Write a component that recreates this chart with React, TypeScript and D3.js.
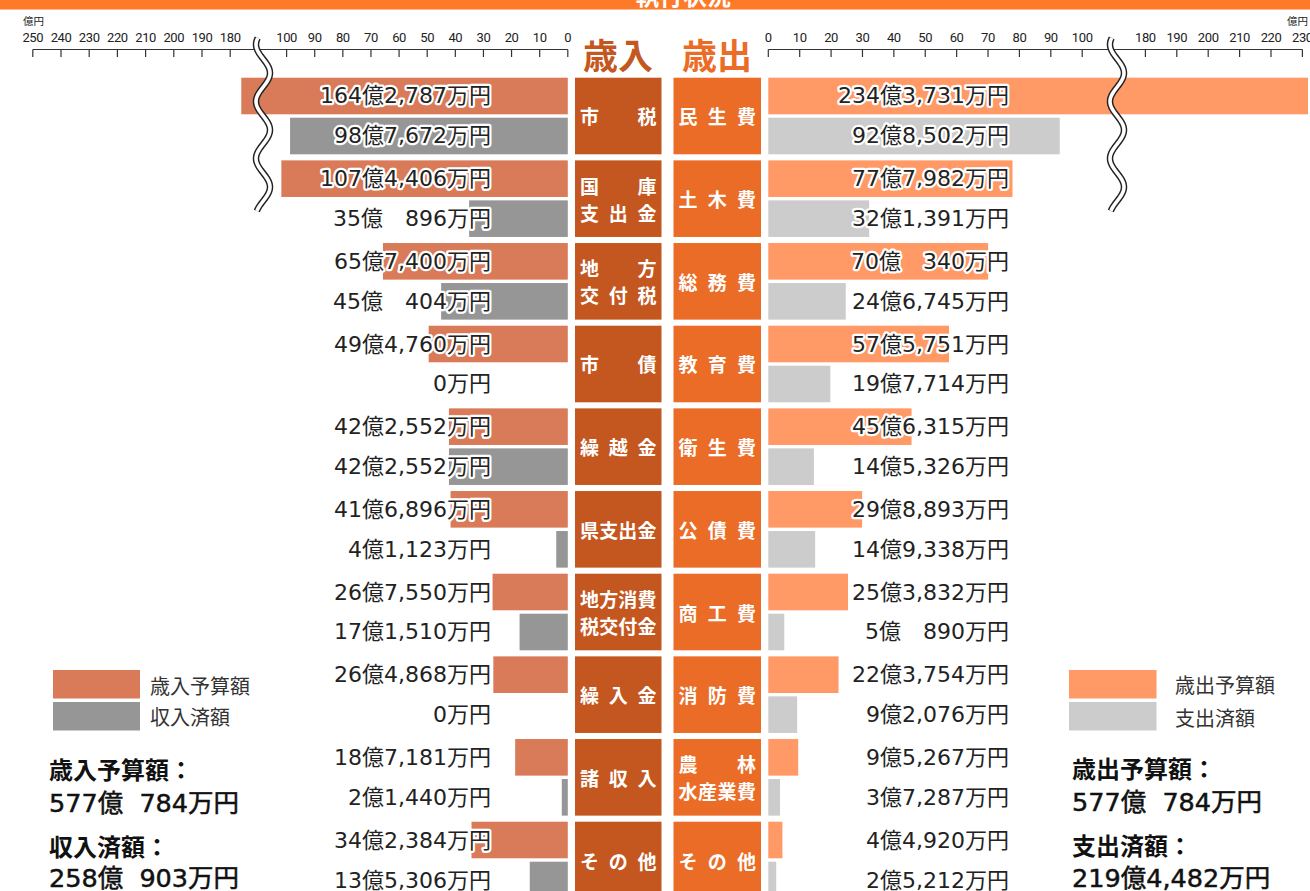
import React from 'react';
import * as d3 from 'd3';

// ---- data (values in 万円) ----
const revCategories = ['市税', '国庫|支出金', '地方|交付税', '市債', '繰越金', '県支出金', '地方消費|税交付金', '繰入金', '諸収入', 'その他'];
const revBudget = [1642787, 1074406, 657400, 494760, 422552, 416896, 267550, 264868, 187181, 342384];
const revActual = [987672, 350896, 450404, 0, 422552, 41123, 171510, 0, 21440, 135306];

const expCategories = ['民生費', '土木費', '総務費', '教育費', '衛生費', '公債費', '商工費', '消防費', '農林|水産業費', 'その他'];
const expBudget = [2343731, 777982, 700340, 575751, 456315, 298893, 253832, 223754, 95267, 44920];
const expActual = [928502, 321391, 246745, 197714, 145326, 149338, 50890, 92076, 37287, 25212];

const leftTicks = [0, 10, 20, 30, 40, 50, 60, 70, 80, 90, 100, 180, 190, 200, 210, 220, 230, 240, 250];
const rightTicks = [0, 10, 20, 30, 40, 50, 60, 70, 80, 90, 100, 180, 190, 200, 210, 220, 230];

const revLegend = ['歳入予算額', '収入済額'];
const expLegend = ['歳出予算額', '支出済額'];
const revTotals = [['歳入予算額：', '577億\u00a0\u00a0784万円'], ['収入済額：', '258億\u00a0\u00a0903万円']];
const expTotals = [['歳出予算額：', '577億\u00a0\u00a0784万円'], ['支出済額：', '219億4,482万円']];

const COLORS = {
  revBudget: '#D97A58',
  revActual: '#969696',
  revBox: '#C4571F',
  expBudget: '#FF9966',
  expActual: '#CCCCCC',
  expBox: '#EA6C27',
  top: '#FF7A28',
};

const W = 1310;
const H = 891;
const JP = "'DejaVu Sans', 'Noto Sans CJK JP', sans-serif";
const JPB = "'Noto Sans CJK JP', sans-serif";

function fmt(man: number): string {
  const oku = Math.floor(man / 10000);
  const rest = man % 10000;
  if (oku === 0) return `${rest}万円`;
  if (rest < 1000) return `${oku}億\u3000${rest}万円`;
  return `${oku}億${d3.format(',')(rest)}万円`;
}

const xL = d3.scaleLinear().domain([0, 100, 180, 250]).range([567.8, 286.6, 230.2, 32.8]);
const xR = d3.scaleLinear().domain([0, 100, 180, 230]).range([768.3, 1082.2, 1145.4, 1302.4]);

const groupBand = d3.scaleBand<number>().domain(d3.range(10)).range([77.7, 898.3]).paddingInner(0.0734).paddingOuter(0);
const subBand = d3.scaleBand<string>().domain(['b', 'a']).range([0, groupBand.bandwidth()]).paddingInner(0.085).paddingOuter(0);

const AXIS_Y = 49.5;

function Squiggle({ cx }: { cx: number }) {
  const ys = d3.range(38, 212, 1);
  const line = d3.line<number>().x((y) => cx + 7 * Math.cos((2 * Math.PI * (y - 73)) / 57)).y((y) => y).curve(d3.curveBasis);
  const d = line(ys) || '';
  return (
    <g>
      <path d={d} fill="none" stroke="#222" strokeWidth={6.5} />
      <path d={d} fill="none" stroke="#fff" strokeWidth={3.6} />
    </g>
  );
}

function Axis({ scale, ticks, x0, x1 }: { scale: d3.ScaleLinear<number, number>; ticks: number[]; x0: number; x1: number }) {
  return (
    <g>
      <line x1={x0} x2={x1} y1={AXIS_Y} y2={AXIS_Y} stroke="#333" strokeWidth={1.2} />
      {ticks.map((t) => (
        <g key={t}>
          <line x1={scale(t)} x2={scale(t)} y1={AXIS_Y} y2={AXIS_Y + 7.5} stroke="#333" strokeWidth={1.2} />
          <text x={scale(t)} y={41.5} textAnchor="middle" fontFamily="Roboto, sans-serif" fontSize={13} letterSpacing={-0.4} fill="#222">
            {t}
          </text>
        </g>
      ))}
    </g>
  );
}

function BoxLabel({ x, y, w, h, label, fill }: { x: number; y: number; w: number; h: number; label: string; fill: string }) {
  const lines = label.split('|');
  const cy = y + h / 2;
  const lh = 27;
  const pad = 5;
  const cw = 19;
  return (
    <g>
      <rect x={x} y={y} width={w} height={h} fill={fill} />
      {lines.map((ln, li) => {
        const chars = Array.from(ln);
        const ly = cy + (li - (lines.length - 1) / 2) * lh;
        const n = chars.length;
        const span = w - 2 * pad - cw;
        return chars.map((c, ci) => (
          <text
            key={`${li}-${ci}`}
            x={x + pad + cw / 2 + (n > 1 ? (ci * span) / (n - 1) : span / 2)}
            y={ly}
            textAnchor="middle"
            dominantBaseline="central"
            fontFamily={JPB}
            fontWeight={700}
            fontSize={19}
            fill="#fff"
          >
            {c}
          </text>
        ));
      })}
    </g>
  );
}

function ValueLabel({ x, y, text }: { x: number; y: number; text: string }) {
  return (
    <text
      x={x}
      y={y}
      textAnchor="end"
      dominantBaseline="central"
      fontFamily={JP}
      fontSize={22}
      fill="#222"
      stroke="#fff"
      strokeWidth={4.5}
      strokeLinejoin="round"
      style={{ paintOrder: 'stroke' }}
    >
      {text}
    </text>
  );
}

export default function App() {
  const sb = subBand('b') as number;
  const sa = subBand('a') as number;
  const bh = subBand.bandwidth();
  const gh = groupBand.bandwidth();
  return (
    <svg width={W} height={H} style={{ position: 'absolute', left: 0, top: 0, background: '#fff' }}>
      {/* top bar */}
      <rect x={0} y={0} width={W} height={9.5} fill={COLORS.top} />
      <text x={683} y={5} textAnchor="middle" fontFamily={JPB} fontWeight={700} fontSize={24} fill="#fff">
        執行状況
      </text>

      {/* units */}
      <text x={23} y={25} fontFamily={JPB} fontSize={10.5} fill="#222">億円</text>
      <text x={1308} y={25} textAnchor="end" fontFamily={JPB} fontSize={10.5} fill="#222">億円</text>

      {/* axes */}
      <Axis scale={xL} ticks={leftTicks} x0={xL(250)} x1={xL(0)} />
      <Axis scale={xR} ticks={rightTicks} x0={xR(0)} x1={xR(230)} />

      {/* headers */}
      <text x={618} y={53} textAnchor="middle" dominantBaseline="central" fontFamily={JPB} fontWeight={700} fontSize={35} fill={COLORS.revBox}>
        歳入
      </text>
      <text x={717} y={53} textAnchor="middle" dominantBaseline="central" fontFamily={JPB} fontWeight={700} fontSize={35} fill={COLORS.expBox}>
        歳出
      </text>

      {/* revenue bars */}
      {revCategories.map((c, i) => {
        const g = groupBand(i) as number;
        return (
          <g key={`rb${i}`}>
            <rect x={xL(revBudget[i] / 10000)} y={g + sb} width={xL(0) - xL(revBudget[i] / 10000)} height={bh} fill={COLORS.revBudget} />
            <rect x={xL(revActual[i] / 10000)} y={g + sa} width={xL(0) - xL(revActual[i] / 10000)} height={bh} fill={COLORS.revActual} />
          </g>
        );
      })}
      {/* expenditure bars */}
      {expCategories.map((c, i) => {
        const g = groupBand(i) as number;
        return (
          <g key={`eb${i}`}>
            <rect x={xR(0)} y={g + sb} width={Math.min(xR(expBudget[i] / 10000), 1308) - xR(0)} height={bh} fill={COLORS.expBudget} />
            <rect x={xR(0)} y={g + sa} width={Math.min(xR(expActual[i] / 10000), 1308) - xR(0)} height={bh} fill={COLORS.expActual} />
          </g>
        );
      })}

      {/* category boxes */}
      {revCategories.map((c, i) => (
        <BoxLabel key={`rbox${i}`} x={575} y={groupBand(i) as number} w={86.5} h={gh} label={c} fill={COLORS.revBox} />
      ))}
      {expCategories.map((c, i) => (
        <BoxLabel key={`ebox${i}`} x={673.5} y={groupBand(i) as number} w={87.5} h={gh} label={c} fill={COLORS.expBox} />
      ))}

      {/* squiggles (axis breaks) */}
      <Squiggle cx={263} />
      <Squiggle cx={1117} />

      {/* value labels */}
      {revCategories.map((c, i) => {
        const g = groupBand(i) as number;
        return (
          <g key={`rl${i}`}>
            <ValueLabel x={491} y={g + sb + bh / 2} text={fmt(revBudget[i])} />
            <ValueLabel x={491} y={g + sa + bh / 2} text={fmt(revActual[i])} />
          </g>
        );
      })}
      {expCategories.map((c, i) => {
        const g = groupBand(i) as number;
        return (
          <g key={`el${i}`}>
            <ValueLabel x={1009} y={g + sb + bh / 2} text={fmt(expBudget[i])} />
            <ValueLabel x={1009} y={g + sa + bh / 2} text={fmt(expActual[i])} />
          </g>
        );
      })}

      {/* legends */}
      {revLegend.map((t, i) => (
        <g key={`lg${i}`}>
          <rect x={53} y={670 + i * 32} width={87} height={28.5} fill={i === 0 ? COLORS.revBudget : COLORS.revActual} />
          <text x={150} y={685 + i * 31} dominantBaseline="central" fontFamily={JPB} fontSize={20} fill="#333">
            {t}
          </text>
        </g>
      ))}
      {expLegend.map((t, i) => (
        <g key={`rg${i}`}>
          <rect x={1069} y={670 + i * 32} width={87.5} height={28.5} fill={i === 0 ? COLORS.expBudget : COLORS.expActual} />
          <text x={1175} y={684 + i * 33} dominantBaseline="central" fontFamily={JPB} fontSize={20} fill="#333">
            {t}
          </text>
        </g>
      ))}

      {/* totals */}
      {revTotals.map((pair, i) => (
        <g key={`rt${i}`}>
          <text x={49} y={771 + i * 77} dominantBaseline="central" fontFamily={JP} fontWeight={700} fontSize={24} fill="#111">
            {pair[0]}
          </text>
          <text x={49} y={803 + i * 75} dominantBaseline="central" fontFamily={JP} fontSize={25.5} fill="#111" stroke="#111" strokeWidth={0.5}>
            {pair[1]}
          </text>
        </g>
      ))}
      {expTotals.map((pair, i) => (
        <g key={`et${i}`}>
          <text x={1072} y={770 + i * 77} dominantBaseline="central" fontFamily={JP} fontWeight={700} fontSize={24} fill="#111">
            {pair[0]}
          </text>
          <text x={1072} y={802 + i * 76} dominantBaseline="central" fontFamily={JP} fontSize={25.5} fill="#111" stroke="#111" strokeWidth={0.5}>
            {pair[1]}
          </text>
        </g>
      ))}
    </svg>
  );
}
